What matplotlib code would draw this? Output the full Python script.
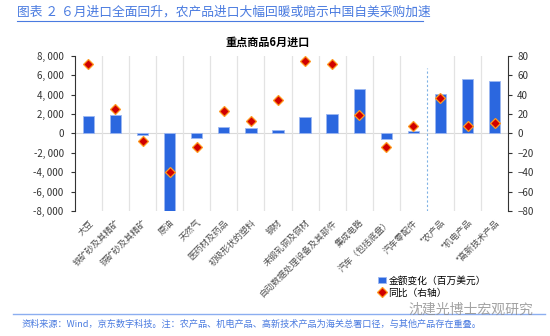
import matplotlib
matplotlib.use("Agg")
import matplotlib.pyplot as plt
import numpy as np
from matplotlib.ticker import FuncFormatter

plt.rcParams['font.family'] = ['Noto Sans CJK SC', 'DejaVu Sans']
plt.rcParams['axes.unicode_minus'] = False

# 重点商品6月进口：金额变化（百万美元）与同比（%）
categories = ['大豆', '铁矿砂及其精矿', '铜矿砂及其精矿', '原油', '天然气',
              '医药材及药品', '初级形状的塑料', '钢材', '未锻轧铜及铜材',
              '自动数据处理设备及其部件', '集成电路', '汽车（包括底盘）',
              '汽车零配件', '*农产品', '*机电产品', '*高新技术产品']
amount_change = [1780, 1850, -200, -8000, -450, 650, 580, 400, 1650,
                 1990, 4570, -620, 200, 4050, 5560, 5360]
yoy = [72, 25, -7.6, -39.6, -14.4, 23.3, 13, 34, 74.5,
       71.5, 18.9, -14.4, 7.8, 36, 7.5, 11]

left_ticks = [-8000, -6000, -4000, -2000, 0, 2000, 4000, 6000, 8000]
right_ticks = [-80, -60, -40, -20, 0, 20, 40, 60, 80]

blue = '#2B67DF'
text_blue = '#4A7BE0'

fig = plt.figure(figsize=(5.5, 3.36), dpi=100)
ax = fig.add_axes([0.136, 0.372, 0.788, 0.462])
x = np.arange(len(categories))

ax.bar(x, amount_change, width=0.42, color=blue, edgecolor='#9DB8F2',
       linewidth=0.6, zorder=3, label='金额变化（百万美元）')
ax.set_xlim(-0.5, len(categories) - 0.5)
ax.set_ylim(-8000, 8000)
ax.set_yticks(left_ticks)
ax.yaxis.set_major_formatter(FuncFormatter(lambda v, p: '{:,.0f}'.format(v).replace(',', ', ')))
ax.axhline(0, color='#D9D9D9', lw=0.8, zorder=1)

# 类别之间的竖向分隔线，农产品之前用虚线隔开
for i in range(1, len(categories)):
    if i == 13:
        ax.axvline(i - 0.5, ymax=0.92, color='#7FB2E5', lw=0.8, ls=(0, (2, 2)), zorder=1)
    else:
        ax.axvline(i - 0.5, color='#E3E3E3', lw=0.9, zorder=1)

ax.set_xticks(x)
ax.set_xticklabels(categories, rotation=45, ha='right', va='top',
                   rotation_mode='anchor', fontsize=6.3, color='#505050')
ax.tick_params(axis='x', length=0, pad=5)
ax.tick_params(axis='y', labelsize=7, length=3, pad=5, color='#333333', labelcolor='#333333')
for s in ['top', 'bottom', 'right']:
    ax.spines[s].set_visible(False)
ax.spines['left'].set_color('#333333')

ax2 = ax.twinx()
ax2.plot(x, yoy, ls='none', marker='D', ms=5, mfc='#D00000', mec='#FF9A1F',
         mew=0.9, zorder=4, label='同比（右轴）')
ax2.set_ylim(-80, 80)
ax2.set_yticks(right_ticks)
ax2.yaxis.set_major_formatter(FuncFormatter(lambda v, p: '{:.0f}'.format(v).replace('-', '\u2212')))
ax2.tick_params(axis='y', labelsize=7, length=3, color='#333333', labelcolor='#333333')
for s in ['top', 'bottom', 'left']:
    ax2.spines[s].set_visible(False)
ax2.spines['right'].set_color('#333333')

fig.text(0.487, 0.875, '重点商品6月进口', fontsize=8, fontweight='bold',
         ha='center', va='center')

# 图例
h1, l1 = ax.get_legend_handles_labels()
h2, l2 = ax2.get_legend_handles_labels()
fig.legend(h1 + h2, l1 + l2, loc='upper left', bbox_to_anchor=(0.678, 0.195),
           frameon=False, fontsize=7, handlelength=0.8, handleheight=0.7,
           handletextpad=0.3, labelspacing=0.25, borderpad=0)

# 顶部标题与底部来源
fig.text(0.031, 0.964, '图表 ２ ６月进口全面回升，农产品进口大幅回暖或暗示中国自美采购加速',
         fontsize=9.2, color=text_blue, va='center')
fig.add_artist(plt.Line2D([0.031, 0.769], [0.9375, 0.9375], color=text_blue, lw=0.8))
fig.add_artist(plt.Line2D([0.024, 0.99], [0.066, 0.066], color='#8CAEF0', lw=1.0))
fig.text(0.04, 0.035, '资料来源：Wind，京东数字科技。注：农产品、机电产品、高新技术产品为海关总署口径，与其他产品存在重叠。',
         fontsize=6.6, color=text_blue, va='center')
fig.text(0.97, 0.077, '沈建光博士宏观研究', fontsize=10, color='#8C8C8C',
         ha='right', va='center', alpha=0.8)

fig.savefig('out.png', dpi=100)
